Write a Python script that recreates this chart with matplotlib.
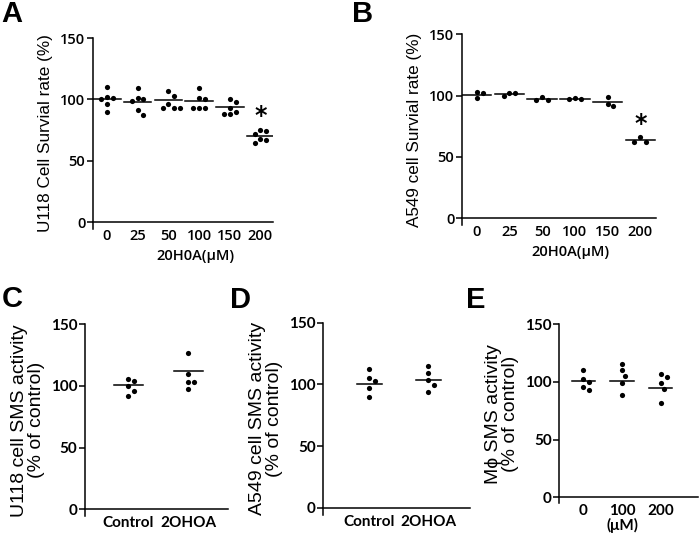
import matplotlib
matplotlib.use("Agg")
import matplotlib.pyplot as plt
import numpy as np

# ---------------- data ----------------
A_doses = ['0', '25', '50', '100', '150', '200']
A_vals = [[110, 102, 101, 100, 96, 90],
          [109, 101, 100, 99, 91, 87],
          [107, 103, 96, 93, 93, 93],
          [109, 101, 100, 93, 93, 93],
          [100, 98, 93, 90, 88, 88],
          [75, 74, 72, 68, 67, 64]]
A_means = [100.5, 97.8, 99.2, 99.0, 93.5, 70.0]

B_doses = ['0', '25', '50', '100', '150', '200']
B_vals = [[103, 102, 98],
          [102, 102, 100],
          [99, 96.5, 96.5],
          [98, 97, 97],
          [98.5, 93, 91.5],
          [66.5, 62.5, 62.5]]
B_means = [100.5, 101.5, 97.0, 97.0, 95.0, 63.5]

C_groups = ['Control', '2OHOA']
C_vals = [[106, 104, 100, 96, 92],
          [126.5, 109.5, 103, 103, 97.5]]
C_means = [100.5, 112.0]

D_groups = ['Control', '2OHOA']
D_vals = [[112.5, 105.5, 102.5, 97, 90],
          [115, 109, 103.5, 99.5, 94]]
D_means = [100.5, 103.5]

E_groups = ['0', '100\n(μM)', '200']
E_vals = [[110, 103, 100, 96, 93],
          [116, 110, 105, 99, 89],
          [107, 104, 99, 94, 81.5]]
E_means = [101.0, 100.5, 95.0]

yticks = [0, 50, 100, 150]

# ---------------- layout ----------------
W, H = 700, 533
fig = plt.figure(figsize=(7, 5.33), dpi=100)

def add_axes_px(left, right, top, bottom):
    return fig.add_axes([left / W, 1 - bottom / H, (right - left) / W, (bottom - top) / H])

tick_font_AB = dict(family=['Open Sans', 'DejaVu Sans'], weight='semibold', size=10.5)
tick_font_CDE = dict(family=['Lato', 'DejaVu Sans'], weight='bold', size=11)
label_font_AB = dict(family=['Liberation Sans', 'DejaVu Sans'], size=12.3)
label_font_CDE = dict(family=['Liberation Sans', 'DejaVu Sans'], size=14)

def style(ax, xlim, ext, cats, tfont):
    ax.set_xlim(*xlim)
    ax.set_ylim(-ext, 150)
    for s in ['top', 'right']:
        ax.spines[s].set_visible(False)
    ax.spines['bottom'].set_position(('data', 0))
    ax.spines['left'].set_linewidth(1.1)
    ax.spines['bottom'].set_linewidth(1.1)
    ax.set_yticks(yticks)
    ax.set_yticklabels([str(t) for t in yticks], fontdict=tfont)
    ax.set_xticks(range(len(cats)))
    ax.set_xticklabels(cats, fontdict=tfont, linespacing=1.0)
    ax.tick_params(axis='x', length=0, pad=5)
    ax.tick_params(axis='y', length=4, width=1.1, pad=1.5)

def swarm(ax, vals, d_px=5.8):
    bb = ax.get_position()
    wpx = bb.width * W
    hpx = bb.height * H
    x0, x1 = ax.get_xlim()
    y0, y1 = ax.get_ylim()
    sx = wpx / (x1 - x0)
    sy = hpx / (y1 - y0)
    xs, ys = [], []
    for gi, g in enumerate(vals):
        placed = []
        for v in sorted(g, reverse=True):
            cand = [0]
            for k in range(1, 12):
                cand += [k * 0.5, -k * 0.5]
            for c in cand:
                ox = c * d_px
                ok = all((ox - px) ** 2 + ((v - pv) * sy) ** 2 >= d_px ** 2 for px, pv in placed)
                if ok:
                    placed.append((ox, v))
                    break
        for ox, v in placed:
            xs.append(gi + ox / sx)
            ys.append(v)
    ax.scatter(xs, ys, s=14, color='black', linewidths=0, zorder=3, clip_on=False)

def means(ax, m, half):
    for i, v in enumerate(m):
        ax.plot([i - half, i + half], [v, v], color='black', lw=1.1, zorder=2)

star_font = dict(family=['DejaVu Sans'], weight='bold', size=17)

# Panel A
axA = add_axes_px(93, 273, 38, 229)
style(axA, (-0.456, 5.41), 7 / 1.2267, A_doses, tick_font_AB)
swarm(axA, A_vals)
means(axA, A_means, 0.45)
axA.text(5, max(A_vals[5]) + 2, '*', ha='center', va='bottom', fontdict=star_font)
axA.set_ylabel('U118 Cell Survial rate (%)', fontdict=label_font_AB, labelpad=5)
axA.set_xlabel('20H0A(μM)', fontdict=tick_font_AB)
axA.xaxis.set_label_coords(0.567, -0.105)

# Panel B
axB = add_axes_px(462, 656, 34.3, 225.3)
style(axB, (-0.45, 5.48), 7 / 1.2267, B_doses, tick_font_AB)
swarm(axB, B_vals)
means(axB, B_means, 0.45)
axB.text(5, max(B_vals[5]) + 1, '*', ha='center', va='bottom', fontdict=star_font)
axB.set_ylabel('A549 cell Survial rate (%)', fontdict=label_font_AB, labelpad=5)
axB.set_xlabel('20H0A(μM)', fontdict=tick_font_AB)
axB.xaxis.set_label_coords(0.557, -0.105)

# Panel C
axC = add_axes_px(85, 228, 324.3, 516.3)
style(axC, (-0.72, 1.66), 7 / 1.233, C_groups, tick_font_CDE)
swarm(axC, C_vals)
means(axC, C_means, 0.24)
axC.set_ylabel('U118 cell SMS activity\n(% of control)', fontdict=label_font_CDE, labelpad=4, linespacing=1.0)

# Panel D
axD = add_axes_px(323.3, 470, 322.7, 514.7)
style(axD, (-0.78, 1.71), 7 / 1.233, D_groups, tick_font_CDE)
swarm(axD, D_vals)
means(axD, D_means, 0.21)
axD.set_ylabel('A549 cell SMS activity\n(% of control)', fontdict=label_font_CDE, labelpad=4, linespacing=1.0)

# Panel E
axE = add_axes_px(559.3, 698, 324.3, 503.3)
style(axE, (-0.62, 2.96), 6 / 1.153, E_groups, tick_font_CDE)
swarm(axE, E_vals)
means(axE, E_means, 0.3)
axE.set_ylabel('Mϕ SMS activity\n(% of control)', fontdict=label_font_CDE, labelpad=4, linespacing=1.0)

# Panel letters
letter_font = dict(family=['Liberation Sans', 'DejaVu Sans'], weight='bold', size=21)
for lab, x, y in [('A', 1, 0), ('B', 352, 0), ('C', 2, 285), ('D', 230, 286), ('E', 466, 286)]:
    fig.text(x / W, 1 - y / H, lab, ha='left', va='top', fontdict=letter_font)

fig.savefig('out.png', dpi=100)
